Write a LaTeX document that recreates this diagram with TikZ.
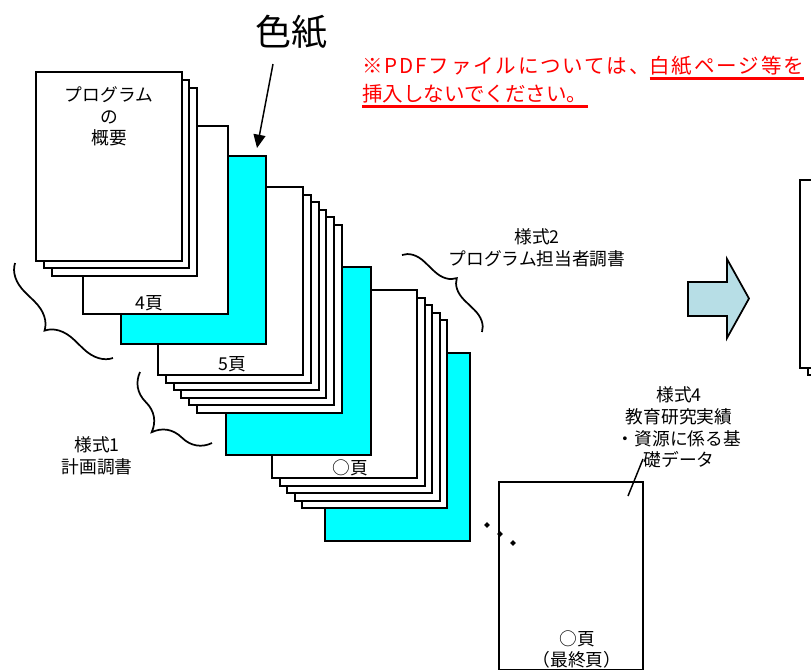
\documentclass[tikz,border=0pt]{standalone}
\usepackage{fontspec}
\setmainfont{Noto Sans CJK JP}
\usetikzlibrary{arrows.meta,decorations.pathreplacing,shapes.geometric}
\definecolor{shikishi}{RGB}{0,255,255}
\definecolor{arrowblue}{RGB}{183,222,230}
\newcommand\redul[1]{\setbox0=\hbox{#1}\rlap{\rule[-5pt]{\wd0}{2.2pt}}\box0}
\tikzset{
	page/.style={draw, line width=1.5pt, fill=white},
	cpage/.style={page, fill=shikishi},
	pagebrace/.style={decorate, decoration={brace, amplitude=#1}, line width=1.3pt},
	smalltext/.style={font=\fontsize{13.3}{16.2}\selectfont, align=center, inner sep=0pt},
	notetext/.style={anchor=base west, text=red, font=\fontsize{15.4}{22}\selectfont, inner sep=0pt},
	dotmark/.style={diamond, fill, inner sep=0pt, minimum size=4.5pt},
}
\begin{document}
\begin{tikzpicture}[x=0.75pt, y=-0.75pt]
			\clip (0,0) rectangle (811,669);
			
			%Right page stack
			\draw[page] (808,187) rectangle ++(145,188);
			\draw[page] (800,180) rectangle ++(145,188);
			
			%Last color paper
			\draw[cpage] (325,353) rectangle ++(145,188);
			
			%Pages behind the third color paper
			\def\x{272}
			\def\y{290}
			\draw[page] (\x+30,\y+30) rectangle ++(145,188);
			\draw[page] (\x+22.5,\y+22.5) rectangle ++(145,188);
			\draw[page] (\x+15,\y+15) rectangle ++(145,188);
			\draw[page] (\x+7.5,\y+7.5) rectangle ++(145,188);
			\draw[page] (\x,\y) rectangle ++(145,188);
			\node[smalltext] (pn) at (350,468) {○頁};
			
			%Second color paper
			\draw[cpage] (226,267) rectangle ++(145,188);
			
			%Pages of Yoshiki 1 (second part)
			\def\x{158}
			\def\y{187}
			\draw[page] (\x+39,\y+37.5) rectangle ++(145,188);
			\draw[page] (\x+31.2,\y+30) rectangle ++(145,188);
			\draw[page] (\x+23.4,\y+22.5) rectangle ++(145,188);
			\draw[page] (\x+15.6,\y+15) rectangle ++(145,188);
			\draw[page] (\x+7.8,\y+7.5) rectangle ++(145,188);
			\draw[page] (\x,\y) rectangle ++(145,188);
			\node[smalltext] (p5) at (232,364) {5頁};
			
			%First color paper
			\draw[cpage] (121,156) rectangle ++(145,188);
			
			%Page 4
			\draw[page] (83,126) rectangle ++(145,188);
			\node[smalltext] (p4) at (149,303) {4頁};
			
			%Program outline
			\draw[page] (52,88) rectangle ++(145,188);
			\draw[page] (44,80) rectangle ++(145,188);
			\draw[page] (36,72) rectangle ++(146,189);
			\node[smalltext] (gaiyo) at (109,116.5) {プログラム\\の\\概要};
			
			%Last page
			\draw[page] (499,482) rectangle ++(144,188);
			\node[smalltext] (plast) at (577,649.5) {○頁\\（最終頁）};
			\node[dotmark] (d1) at (487,525) {};
			\node[dotmark] (d2) at (500,534) {};
			\node[dotmark] (d3) at (513,543) {};
			
			%Color paper label
			\node[font=\fontsize{27}{30}\selectfont, inner sep=0pt] (iro) at (291,32) {色紙};
			\coordinate (iroa) at (273,64);
			\coordinate (irob) at (257,148);
			\draw[line width=1.1pt, -{Triangle[length=10pt, width=9pt]}] (iroa) -- (irob);
			
			%Note in red
			\node[notetext] (note1) at (362,73) {\addfontfeature{LetterSpace=9}※PDFファイルについては、\redul{白紙ページ等を}};
			\node[notetext] (note2) at (362,101) {\redul{挿入しないでください。}};
			
			%Braces and labels
			\draw[pagebrace=21pt] (113,358) -- (15,263);
			\draw[pagebrace=26pt] (212,443) -- (140,372);
			\draw[pagebrace=16pt] (402,255) -- (482,332);
			\node[smalltext] (s1) at (97,456) {様式1\\計画調書};
			\node[smalltext] (s2) at (537,247.5) {様式2\\プログラム担当者調書};
			\node[smalltext] (s4) at (679,427.5) {様式4\\教育研究実績\\・資源に係る基\\礎データ};
			\coordinate (s4a) at (643,459);
			\coordinate (s4b) at (628,496);
			\draw[line width=1.1pt] (s4a) -- (s4b);
			
			%Block arrow
			\draw[line width=1.3pt, fill=arrowblue] (688,282) -- (727,282) -- (727,259) -- (749,298.5) -- (727,338) -- (727,316) -- (688,316) -- cycle;
			
\end{tikzpicture}
\end{document}
